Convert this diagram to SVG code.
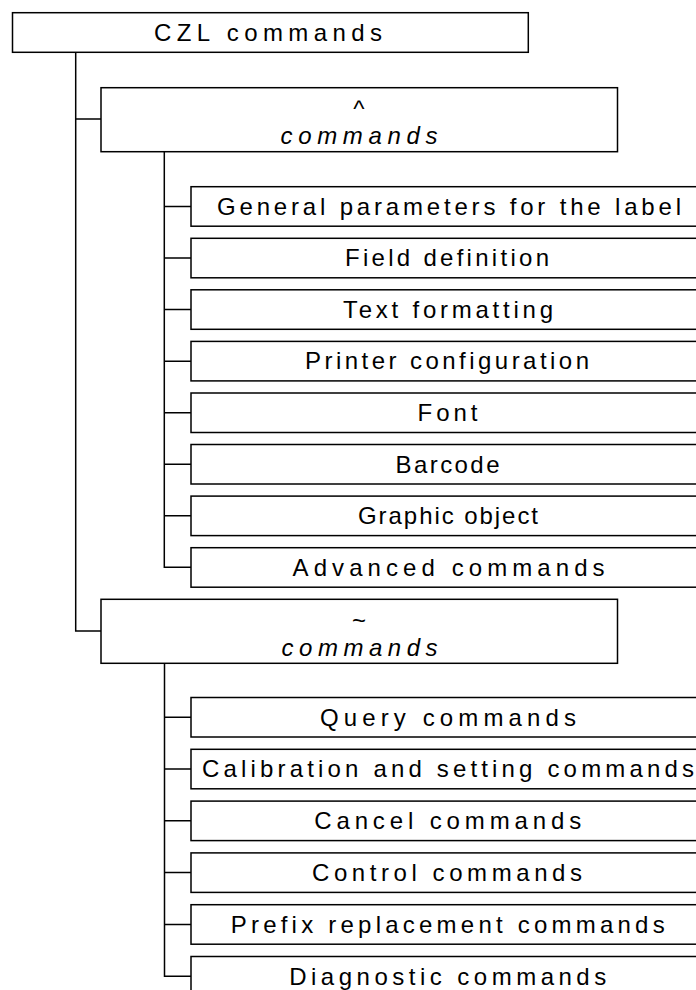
<svg xmlns="http://www.w3.org/2000/svg" width="696" height="990" viewBox="0 0 696 990">
<style>
rect{fill:#fff;stroke:#000;stroke-width:1.5}
.c{fill:none;stroke:#000;stroke-width:1.5}
text{font-family:"Liberation Sans",Arial,sans-serif;font-size:24px;fill:#000;text-anchor:middle}
.i{font-style:italic}
</style>
<rect x="0" y="0" width="696" height="990" style="stroke:none"/>
<g id="connectors">
<path class="c" d="M75.7 52.3V631H101M75.7 119H101"/>
<path class="c" d="M164.3 151.7V567.3H191M164.3 206.4H191M164.3 258H191M164.3 309.6H191M164.3 361.2H191M164.3 412.7H191M164.3 464.3H191M164.3 515.8H191"/>
<path class="c" d="M164.5 663.3V976.2H191M164.5 717.2H191M164.5 769H191M164.5 820.8H191M164.5 872.6H191M164.5 924.4H191"/>
</g>
<g id="root"><rect x="12.5" y="12.7" width="515.8" height="39.6"/><text x="268" y="40.5" textLength="228" lengthAdjust="spacing">CZL commands</text></g>
<g id="caret"><rect x="101" y="87.7" width="516.5" height="64"/><text x="359" y="117">^</text><text class="i" x="359" y="144" textLength="157" lengthAdjust="spacing">commands</text></g>
<g id="c1"><rect x="191" y="186.7" width="530" height="39.5"/><text x="449" y="214.7" textLength="464" lengthAdjust="spacing">General parameters for the label</text></g>
<g id="c2"><rect x="191" y="238.3" width="530" height="39.5"/><text x="447" y="266.3" textLength="204" lengthAdjust="spacing">Field definition</text></g>
<g id="c3"><rect x="191" y="289.8" width="530" height="39.5"/><text x="448" y="317.8" textLength="210" lengthAdjust="spacing">Text formatting</text></g>
<g id="c4"><rect x="191" y="341.4" width="530" height="39.5"/><text x="447" y="369.4" textLength="284" lengthAdjust="spacing">Printer configuration</text></g>
<g id="c5"><rect x="191" y="393" width="530" height="39.5"/><text x="447.5" y="421" textLength="60" lengthAdjust="spacing">Font</text></g>
<g id="c6"><rect x="191" y="444.5" width="530" height="39.5"/><text x="447.5" y="472.5" textLength="104" lengthAdjust="spacing">Barcode</text></g>
<g id="c7"><rect x="191" y="496.1" width="530" height="39.5"/><text x="448" y="524.1" textLength="180" lengthAdjust="spacing">Graphic object</text></g>
<g id="c8"><rect x="191" y="547.7" width="530" height="39.5"/><text x="448.6" y="575.7" textLength="312" lengthAdjust="spacing">Advanced commands</text></g>
<g id="tilde"><rect x="101" y="599.3" width="516.5" height="64"/><text x="359" y="629">~</text><text class="i" x="359.5" y="656" textLength="156" lengthAdjust="spacing">commands</text></g>
<g id="t1"><rect x="191" y="697.5" width="530" height="39.5"/><text x="448" y="725.5" textLength="256" lengthAdjust="spacing">Query commands</text></g>
<g id="t2"><rect x="191" y="749.3" width="530" height="39.5"/><text x="448" y="777.3" textLength="492" lengthAdjust="spacing">Calibration and setting commands</text></g>
<g id="t3"><rect x="191" y="801.1" width="530" height="39.5"/><text x="447.7" y="829.1" textLength="267" lengthAdjust="spacing">Cancel commands</text></g>
<g id="t4"><rect x="191" y="852.9" width="530" height="39.5"/><text x="447" y="880.9" textLength="270" lengthAdjust="spacing">Control commands</text></g>
<g id="t5"><rect x="191" y="904.7" width="530" height="39.5"/><text x="447.7" y="932.7" textLength="434" lengthAdjust="spacing">Prefix replacement commands</text></g>
<g id="t6"><rect x="191" y="956.5" width="530" height="39.5"/><text x="447.7" y="984.5" textLength="317" lengthAdjust="spacing">Diagnostic commands</text></g>
</svg>
